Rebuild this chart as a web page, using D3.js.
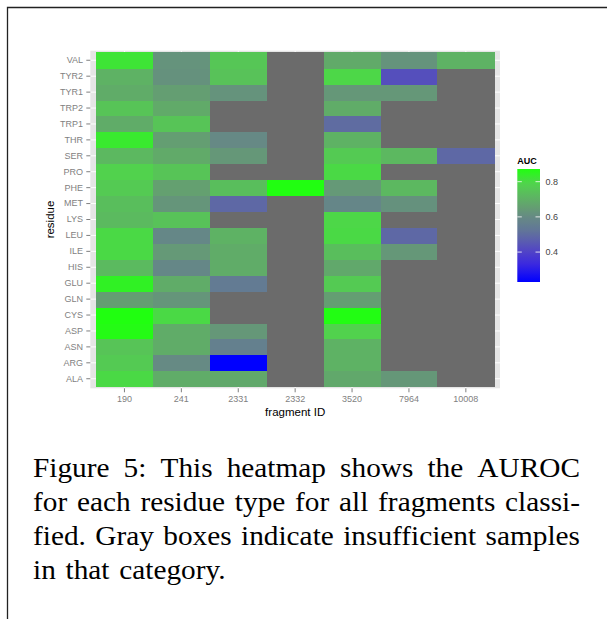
<!DOCTYPE html>
<html><head><meta charset="utf-8">
<script src="https://cdn.jsdelivr.net/npm/d3@7"></script>
<style>body{margin:0;background:#fff}svg{display:block}</style>
</head><body><svg id="c" width="607" height="619"></svg>
<script>
// ---------- data ----------
const fragments = ["190", "241", "2331", "2332", "3520", "7964", "10008"];
const residues = ["ALA","ARG","ASN","ASP","CYS","GLN","GLU","HIS","ILE","LEU","LYS","MET","PHE","PRO","SER","THR","TRP1","TRP2","TYR1","TYR2","VAL"];
//                ALA    ARG    ASN    ASP    CYS    GLN    GLU    HIS    ILE    LEU    LYS    MET    PHE    PRO    SER    THR    TRP1   TRP2   TYR1   TYR2   VAL
const auc190   = [0.800, 0.765, 0.750, 0.865, 0.872, 0.655, 0.845, 0.725, 0.800, 0.800, 0.725, 0.735, 0.765, 0.785, 0.720, 0.830, 0.690, 0.750, 0.690, 0.705, 0.820];
const auc241   = [0.690, 0.600, 0.690, 0.690, 0.800, 0.630, 0.690, 0.590, 0.640, 0.590, 0.745, 0.630, 0.660, 0.750, 0.685, 0.655, 0.750, 0.685, 0.655, 0.620, 0.625];
const auc2331  = [0.680, 0.230, 0.560, 0.635, null,  null,  0.540, 0.690, 0.690, 0.705, null,  0.490, 0.735, null,  0.635, 0.595, null,  null,  0.625, 0.745, 0.755];
const auc2332  = [null,  null,  null,  null,  null,  null,  null,  null,  null,  null,  null,  null,  0.870, null,  null,  null,  null,  null,  null,  null,  null ];
const auc3520  = [0.680, 0.705, 0.705, 0.785, 0.868, 0.655, 0.765, 0.680, 0.735, 0.800, 0.795, 0.585, 0.640, 0.800, 0.765, 0.705, 0.500, 0.690, 0.635, 0.795, 0.685];
const auc7964  = [0.635, null,  null,  null,  null,  null,  null,  null,  0.635, 0.490, null,  0.620, 0.720, null,  0.720, null,  null,  null,  0.635, 0.430, 0.625];
const auc10008 = [null,  null,  null,  null,  null,  null,  null,  null,  null,  null,  null,  null,  null,  null,  0.490, null,  null,  null,  null,  null,  0.705];
const seriesByFragment = [auc190, auc241, auc2331, auc2332, auc3520, auc7964, auc10008];
const legendTicks = [0.4, 0.6, 0.8];
const captionLines = [
  "Figure 5: This heatmap shows the AUROC",
  "for each residue type for all fragments classi-",
  "fied. Gray boxes indicate insufficient samples",
  "in that category."
];

// ---------- styles ----------
const stopVals   = [0.23, 0.33, 0.40, 0.47, 0.53, 0.60, 0.66, 0.72, 0.79, 0.872];
const stopColors = ["#0000ff","#3a28e0","#5042c8","#5c60ac","#627896","#668a84","#64a070","#5cb860","#50d44c","#20ff10"];
const naColor = "#6b6b6b";

const cells = [];
fragments.forEach((f, i) => residues.forEach((r, j) => cells.push({f, r, v: seriesByFragment[i][j]})));
const vals = cells.filter(d => d.v != null).map(d => d.v);
const vmin = d3.min(vals), vmax = d3.max(vals);

const color = d3.scaleLinear().domain(stopVals).range(stopColors).interpolate(d3.interpolateRgb).clamp(true);

const svg = d3.select("#c");
svg.append("path").attr("d", "M7.5,619 V7.5 H607").attr("fill", "none").attr("stroke", "#222").attr("stroke-width", 1.3);

const x = d3.scaleBand().domain(fragments).range([96, 494.3]);
const y = d3.scaleBand().domain(residues).range([386.7, 52.3]);
const bw = x.bandwidth(), bh = y.bandwidth();
const pL = 96 - 0.1 * bw, pR = 494.3 + 0.1 * bw, pT = 52.3 - 0.1 * bh, pB = 386.7 + 0.1 * bh;

svg.append("rect").attr("x", pL).attr("y", pT).attr("width", pR - pL).attr("height", pB - pT).attr("fill", "#e5e5e5");
svg.append("g").selectAll("line").data(fragments).join("line")
  .attr("x1", d => x(d) + bw / 2).attr("x2", d => x(d) + bw / 2).attr("y1", pT).attr("y2", pB)
  .attr("stroke", "#fff").attr("stroke-width", 1);
svg.append("g").selectAll("line").data(residues).join("line")
  .attr("y1", d => y(d) + bh / 2).attr("y2", d => y(d) + bh / 2).attr("x1", pL).attr("x2", pR)
  .attr("stroke", "#fff").attr("stroke-width", 1);

svg.append("g").attr("shape-rendering", "crispEdges").selectAll("rect").data(cells).join("rect")
  .attr("x", d => x(d.f)).attr("y", d => y(d.r))
  .attr("width", bw + 0.5).attr("height", bh + 0.5)
  .attr("fill", d => d.v == null ? naColor : color(d.v));

// axes
const ax = svg.append("g").attr("transform", `translate(0,${pB})`)
  .call(d3.axisBottom(x).tickSize(4).tickPadding(3.8));
const ay = svg.append("g").attr("transform", `translate(${pL},0)`)
  .call(d3.axisLeft(y).tickSize(4).tickPadding(3.3));
[ax, ay].forEach(a => {
  a.select(".domain").remove();
  a.selectAll(".tick line").attr("stroke", "#7f7f7f");
  a.selectAll(".tick text").attr("fill", "#7f7f7f").attr("font-family", "Liberation Sans, Arial, sans-serif").attr("font-size", 9);
});

svg.append("text").attr("x", (pL + pR) / 2).attr("y", 415.8).attr("text-anchor", "middle")
  .attr("font-family", "Liberation Sans, Arial, sans-serif").attr("font-size", 11.5).attr("fill", "#000").text("fragment ID");
svg.append("text").attr("transform", `translate(50,${(pT + pB) / 2}) rotate(-90)`).attr("text-anchor", "middle").attr("dy", "0.35em")
  .attr("font-family", "Liberation Sans, Arial, sans-serif").attr("font-size", 11.5).attr("fill", "#000").text("residue");

// legend
const lx = 517.3, lw = 22.7, lt = 169, lb = 282;
const ls = d3.scaleLinear().domain([vmin, vmax]).range([lb, lt]);
const defs = svg.append("defs");
const grad = defs.append("linearGradient").attr("id", "g").attr("x1", 0).attr("y1", 1).attr("x2", 0).attr("y2", 0);
d3.range(0, 1.0001, 0.02).forEach(t => {
  grad.append("stop").attr("offset", t).attr("stop-color", color(vmin + t * (vmax - vmin)));
});
svg.append("rect").attr("x", lx).attr("y", lt).attr("width", lw).attr("height", lb - lt).attr("fill", "url(#g)");
const lg = svg.append("g");
legendTicks.forEach(v => {
  lg.append("line").attr("x1", lx).attr("x2", lx + 4.5).attr("y1", ls(v)).attr("y2", ls(v)).attr("stroke", "#fff").attr("stroke-opacity", 0.8);
  lg.append("line").attr("x1", lx + lw - 4.5).attr("x2", lx + lw).attr("y1", ls(v)).attr("y2", ls(v)).attr("stroke", "#fff").attr("stroke-opacity", 0.8);
  lg.append("text").attr("x", 545.5).attr("y", ls(v)).attr("dy", "0.35em")
    .attr("font-family", "Liberation Sans, Arial, sans-serif").attr("font-size", 9).attr("fill", "#444").text(v.toFixed(1));
});
svg.append("text").attr("x", lx).attr("y", 164).attr("font-family", "Liberation Sans, Arial, sans-serif")
  .attr("font-size", 9).attr("font-weight", "bold").attr("fill", "#000").text("AUC");

// caption (justified, horizontally stretched serif to mimic Computer Modern width)
const capLeft = 33, capRight = 580, capFs = 28;
const capGroups = captionLines.map((line, i) => {
  const g = svg.append("g");
  const nodes = line.split(" ").map(w => g.append("text").attr("y", 0)
    .attr("font-family", "Liberation Serif, Times New Roman, serif").attr("font-size", capFs).attr("fill", "#000").text(w));
  const widths = nodes.map(n => n.node().getComputedTextLength());
  return {g, nodes, widths, i};
});
// stretch factor from line 2 with natural (0.333em) interword spaces
const ref = capGroups[1];
const natural = d3.sum(ref.widths) + (ref.nodes.length - 1) * capFs * 0.333;
const sx = Math.min(1.2, (capRight - capLeft) / natural);
capGroups.forEach(({g, nodes, widths, i}) => {
  g.attr("transform", `translate(${capLeft},${477 + i * 34.1}) scale(${sx},1)`);
  const avail = (capRight - capLeft) / sx;
  const gap = i < 3 ? (avail - d3.sum(widths)) / (nodes.length - 1) : capFs * 0.333;
  let xx = 0;
  nodes.forEach((n, j) => { n.attr("x", xx); xx += widths[j] + gap; });
});
</script></body></html>
